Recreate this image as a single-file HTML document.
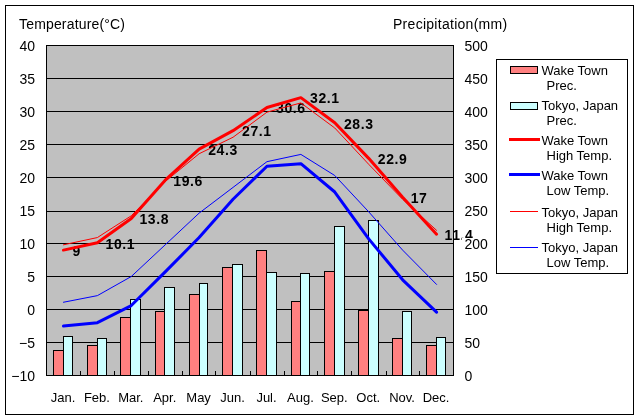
<!DOCTYPE html><html><head><meta charset="utf-8"><style>html,body{margin:0;padding:0;background:#fff;}svg{display:block;will-change:transform;}text{font-family:"Liberation Sans",sans-serif;}</style></head><body>
<svg width="640" height="420" viewBox="0 0 640 420">
<rect x="0" y="0" width="640" height="420" fill="#fff"/>
<rect x="5.5" y="5.5" width="628" height="409" fill="none" stroke="#000" stroke-width="1"/>
<rect x="46.5" y="45.5" width="407" height="330" fill="#c0c0c0" stroke="#000" stroke-width="1" shape-rendering="crispEdges"/>
<path d="M46 78.5H454M46 111.5H454M46 144.5H454M46 177.5H454M46 211.5H454M46 243.5H454M46 276.5H454M46 309.5H454M46 342.5H454" stroke="#000" stroke-width="1" shape-rendering="crispEdges"/>
<path d="M80.5 371V375M114.5 371V375M148.5 371V375M182.5 371V375M215.5 371V375M250.5 371V375M284.5 371V375M317.5 371V375M351.5 371V375M386.5 371V375M419.5 371V375" stroke="#000" stroke-width="1" shape-rendering="crispEdges"/>
<rect x="53.5" y="350.5" width="10" height="25" fill="#ff8080" stroke="#000" stroke-width="1" shape-rendering="crispEdges"/>
<rect x="63.5" y="336.5" width="9" height="39" fill="#ccffff" stroke="#000" stroke-width="1" shape-rendering="crispEdges"/>
<rect x="87.5" y="345.5" width="10" height="30" fill="#ff8080" stroke="#000" stroke-width="1" shape-rendering="crispEdges"/>
<rect x="97.5" y="338.5" width="9" height="37" fill="#ccffff" stroke="#000" stroke-width="1" shape-rendering="crispEdges"/>
<rect x="120.5" y="317.5" width="10" height="58" fill="#ff8080" stroke="#000" stroke-width="1" shape-rendering="crispEdges"/>
<rect x="130.5" y="299.5" width="10" height="76" fill="#ccffff" stroke="#000" stroke-width="1" shape-rendering="crispEdges"/>
<rect x="155.5" y="311.5" width="9" height="64" fill="#ff8080" stroke="#000" stroke-width="1" shape-rendering="crispEdges"/>
<rect x="164.5" y="287.5" width="10" height="88" fill="#ccffff" stroke="#000" stroke-width="1" shape-rendering="crispEdges"/>
<rect x="189.5" y="294.5" width="10" height="81" fill="#ff8080" stroke="#000" stroke-width="1" shape-rendering="crispEdges"/>
<rect x="199.5" y="283.5" width="8" height="92" fill="#ccffff" stroke="#000" stroke-width="1" shape-rendering="crispEdges"/>
<rect x="222.5" y="267.5" width="10" height="108" fill="#ff8080" stroke="#000" stroke-width="1" shape-rendering="crispEdges"/>
<rect x="232.5" y="264.5" width="10" height="111" fill="#ccffff" stroke="#000" stroke-width="1" shape-rendering="crispEdges"/>
<rect x="256.5" y="250.5" width="10" height="125" fill="#ff8080" stroke="#000" stroke-width="1" shape-rendering="crispEdges"/>
<rect x="266.5" y="272.5" width="10" height="103" fill="#ccffff" stroke="#000" stroke-width="1" shape-rendering="crispEdges"/>
<rect x="291.5" y="301.5" width="9" height="74" fill="#ff8080" stroke="#000" stroke-width="1" shape-rendering="crispEdges"/>
<rect x="300.5" y="273.5" width="9" height="102" fill="#ccffff" stroke="#000" stroke-width="1" shape-rendering="crispEdges"/>
<rect x="324.5" y="271.5" width="10" height="104" fill="#ff8080" stroke="#000" stroke-width="1" shape-rendering="crispEdges"/>
<rect x="334.5" y="226.5" width="10" height="149" fill="#ccffff" stroke="#000" stroke-width="1" shape-rendering="crispEdges"/>
<rect x="358.5" y="310.5" width="10" height="65" fill="#ff8080" stroke="#000" stroke-width="1" shape-rendering="crispEdges"/>
<rect x="368.5" y="220.5" width="10" height="155" fill="#ccffff" stroke="#000" stroke-width="1" shape-rendering="crispEdges"/>
<rect x="392.5" y="338.5" width="10" height="37" fill="#ff8080" stroke="#000" stroke-width="1" shape-rendering="crispEdges"/>
<rect x="402.5" y="311.5" width="9" height="64" fill="#ccffff" stroke="#000" stroke-width="1" shape-rendering="crispEdges"/>
<rect x="426.5" y="345.5" width="10" height="30" fill="#ff8080" stroke="#000" stroke-width="1" shape-rendering="crispEdges"/>
<rect x="436.5" y="337.5" width="9" height="38" fill="#ccffff" stroke="#000" stroke-width="1" shape-rendering="crispEdges"/>
<text x="72.6" y="255.9" font-size="14" font-weight="bold" letter-spacing="0.6" fill="#000">9</text>
<text x="105.5" y="248.6" font-size="14" font-weight="bold" letter-spacing="0.6" fill="#000">10.1</text>
<text x="139.4" y="224.2" font-size="14" font-weight="bold" letter-spacing="0.6" fill="#000">13.8</text>
<text x="173.3" y="185.9" font-size="14" font-weight="bold" letter-spacing="0.6" fill="#000">19.6</text>
<text x="208.2" y="154.9" font-size="14" font-weight="bold" letter-spacing="0.6" fill="#000">24.3</text>
<text x="242.1" y="136.4" font-size="14" font-weight="bold" letter-spacing="0.6" fill="#000">27.1</text>
<text x="276.1" y="113.3" font-size="14" font-weight="bold" letter-spacing="0.6" fill="#000">30.6</text>
<text x="310.0" y="103.4" font-size="14" font-weight="bold" letter-spacing="0.6" fill="#000">32.1</text>
<text x="343.9" y="128.5" font-size="14" font-weight="bold" letter-spacing="0.6" fill="#000">28.3</text>
<text x="377.8" y="164.2" font-size="14" font-weight="bold" letter-spacing="0.6" fill="#000">22.9</text>
<text x="410.7" y="203.1" font-size="14" font-weight="bold" letter-spacing="0.6" fill="#000">17</text>
<text x="444.6" y="240.1" font-size="14" font-weight="bold" letter-spacing="0.6" fill="#000">11.4</text>
<polyline points="63.46,244.82 97.38,237.56 131.29,215.78 165.21,181.46 199.12,153.74 233.04,137.24 266.96,112.16 300.88,102.92 334.79,128.00 368.71,164.30 402.62,199.28 436.54,230.30" fill="none" stroke="#ff0000" stroke-width="1" stroke-linejoin="round" stroke-linecap="round"/>
<polyline points="63.46,302.24 97.38,295.64 131.29,276.50 165.21,244.82 199.12,213.14 233.04,187.40 266.96,161.66 300.88,154.40 334.79,175.52 368.71,211.82 402.62,250.10 436.54,284.42" fill="none" stroke="#0000ff" stroke-width="1" stroke-linejoin="round" stroke-linecap="round"/>
<polyline points="63.46,250.10 97.38,242.84 131.29,218.42 165.21,180.14 199.12,149.12 233.04,130.64 266.96,107.54 300.88,97.64 334.79,122.72 368.71,158.36 402.62,197.30 436.54,234.26" fill="none" stroke="#ff0000" stroke-width="3" stroke-linejoin="round" stroke-linecap="round"/>
<polyline points="63.46,326.00 97.38,322.70 131.29,305.54 165.21,271.88 199.12,237.56 233.04,199.28 266.96,166.28 300.88,163.64 334.79,192.02 368.71,238.88 402.62,279.80 436.54,312.14" fill="none" stroke="#0000ff" stroke-width="3" stroke-linejoin="round" stroke-linecap="round"/>
<text x="19" y="29" font-size="14" letter-spacing="0.17" fill="#000">Temperature(°C)</text>
<text x="393" y="29" font-size="14" letter-spacing="0.28" fill="#000">Precipitation(mm)</text>
<text x="35" y="51" font-size="14" text-anchor="end" fill="#000">40</text>
<text x="35" y="84" font-size="14" text-anchor="end" fill="#000">35</text>
<text x="35" y="117" font-size="14" text-anchor="end" fill="#000">30</text>
<text x="35" y="150" font-size="14" text-anchor="end" fill="#000">25</text>
<text x="35" y="183" font-size="14" text-anchor="end" fill="#000">20</text>
<text x="35" y="216" font-size="14" text-anchor="end" fill="#000">15</text>
<text x="35" y="249" font-size="14" text-anchor="end" fill="#000">10</text>
<text x="35" y="282" font-size="14" text-anchor="end" fill="#000">5</text>
<text x="35" y="315" font-size="14" text-anchor="end" fill="#000">0</text>
<text x="35" y="348" font-size="14" text-anchor="end" fill="#000">&#8722;5</text>
<text x="35" y="381" font-size="14" text-anchor="end" fill="#000">&#8722;10</text>
<rect x="462" y="40" width="28" height="12" fill="#fff"/>
<text x="464.5" y="51" font-size="14" fill="#000">500</text>
<rect x="462" y="73" width="28" height="12" fill="#fff"/>
<text x="464.5" y="84" font-size="14" fill="#000">450</text>
<rect x="462" y="106" width="28" height="12" fill="#fff"/>
<text x="464.5" y="117" font-size="14" fill="#000">400</text>
<rect x="462" y="139" width="28" height="12" fill="#fff"/>
<text x="464.5" y="150" font-size="14" fill="#000">350</text>
<rect x="462" y="172" width="28" height="12" fill="#fff"/>
<text x="464.5" y="183" font-size="14" fill="#000">300</text>
<rect x="462" y="205" width="28" height="12" fill="#fff"/>
<text x="464.5" y="216" font-size="14" fill="#000">250</text>
<rect x="462" y="238" width="28" height="12" fill="#fff"/>
<text x="464.5" y="249" font-size="14" fill="#000">200</text>
<rect x="462" y="271" width="28" height="12" fill="#fff"/>
<text x="464.5" y="282" font-size="14" fill="#000">150</text>
<rect x="462" y="304" width="28" height="12" fill="#fff"/>
<text x="464.5" y="315" font-size="14" fill="#000">100</text>
<rect x="462" y="337" width="20" height="12" fill="#fff"/>
<text x="464.5" y="348" font-size="14" fill="#000">50</text>
<rect x="462" y="370" width="12" height="12" fill="#fff"/>
<text x="464.5" y="381" font-size="14" fill="#000">0</text>
<text x="63.0" y="402" font-size="13" text-anchor="middle" fill="#000">Jan.</text>
<text x="96.9" y="402" font-size="13" text-anchor="middle" fill="#000">Feb.</text>
<text x="130.8" y="402" font-size="13" text-anchor="middle" fill="#000">Mar.</text>
<text x="164.7" y="402" font-size="13" text-anchor="middle" fill="#000">Apr.</text>
<text x="198.6" y="402" font-size="13" text-anchor="middle" fill="#000">May</text>
<text x="232.5" y="402" font-size="13" text-anchor="middle" fill="#000">Jun.</text>
<text x="266.5" y="402" font-size="13" text-anchor="middle" fill="#000">Jul.</text>
<text x="300.4" y="402" font-size="13" text-anchor="middle" fill="#000">Aug.</text>
<text x="334.3" y="402" font-size="13" text-anchor="middle" fill="#000">Sep.</text>
<text x="368.2" y="402" font-size="13" text-anchor="middle" fill="#000">Oct.</text>
<text x="402.1" y="402" font-size="13" text-anchor="middle" fill="#000">Nov.</text>
<text x="436.0" y="402" font-size="13" text-anchor="middle" fill="#000">Dec.</text>
<rect x="496.5" y="59.5" width="131" height="214" fill="#fff" stroke="#000" stroke-width="1" shape-rendering="crispEdges"/>
<rect x="510.5" y="66.5" width="27" height="7" fill="#ff8080" stroke="#000" stroke-width="1" shape-rendering="crispEdges"/>
<rect x="510.5" y="102.5" width="27" height="7" fill="#ccffff" stroke="#000" stroke-width="1" shape-rendering="crispEdges"/>
<path d="M508.5 139.5H540" stroke="#ff0000" stroke-width="3" shape-rendering="crispEdges"/>
<path d="M508.5 174.5H540" stroke="#0000ff" stroke-width="3" shape-rendering="crispEdges"/>
<path d="M510 211.5H538" stroke="#ff0000" stroke-width="1" shape-rendering="crispEdges"/>
<path d="M510 247.5H538" stroke="#0000ff" stroke-width="1" shape-rendering="crispEdges"/>
<text x="541.5" y="75.1" font-size="13" fill="#000">Wake Town</text>
<text x="546.5" y="90.0" font-size="13" fill="#000">Prec.</text>
<text x="541.5" y="110.0" font-size="13" fill="#000">Tokyo, Japan</text>
<text x="546.5" y="124.9" font-size="13" fill="#000">Prec.</text>
<text x="541.5" y="145.3" font-size="13" fill="#000">Wake Town</text>
<text x="546.5" y="160.2" font-size="13" fill="#000">High Temp.</text>
<text x="541.5" y="179.8" font-size="13" fill="#000">Wake Town</text>
<text x="546.5" y="194.7" font-size="13" fill="#000">Low Temp.</text>
<text x="541.5" y="217.2" font-size="13" fill="#000">Tokyo, Japan</text>
<text x="546.5" y="232.1" font-size="13" fill="#000">High Temp.</text>
<text x="541.5" y="252.4" font-size="13" fill="#000">Tokyo, Japan</text>
<text x="546.5" y="267.3" font-size="13" fill="#000">Low Temp.</text>
</svg></body></html>
